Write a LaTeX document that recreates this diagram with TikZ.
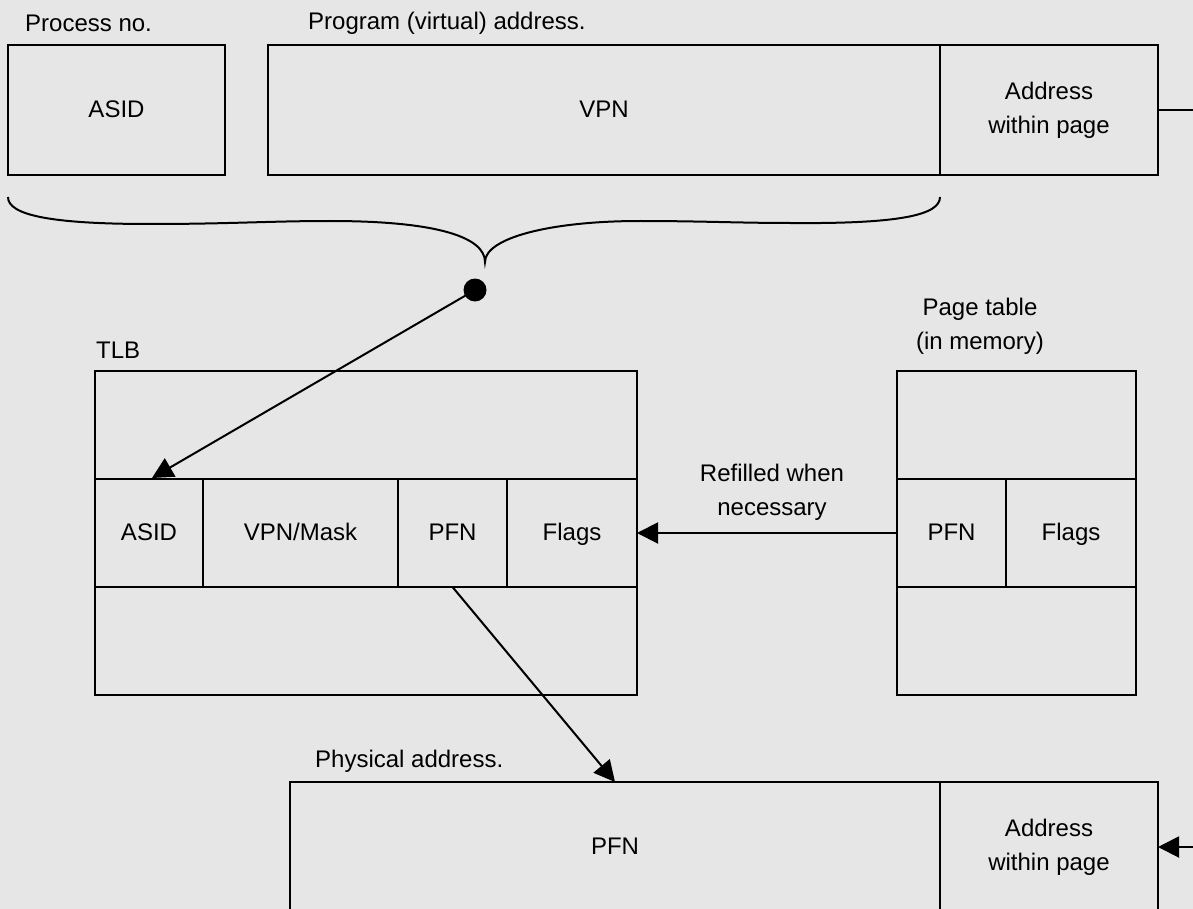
\documentclass[tikz,border=0pt]{standalone}
\usepackage{fontspec}
\setmainfont{Liberation Sans}
\usetikzlibrary{arrows.meta}
\definecolor{bg}{RGB}{230,230,230}
\begin{document}
\begin{tikzpicture}[x=1pt,y=-1pt,
  every node/.style={font=\fontsize{24}{34}\selectfont},
  cell/.style={draw, line width=2pt, inner sep=0pt, outer sep=0pt, align=center},
  one/.style={text height=20pt, text depth=5pt},
  lbl/.style={inner sep=0pt, anchor=west},
  conn/.style={line width=2pt},
  tip/.style={line width=2pt, -{Triangle[length=21pt,width=21pt]}}]
\fill[bg] (0,0) rectangle (1193,909);
\useasboundingbox (0,0) rectangle (1193,909);
\clip (0,0) rectangle (1193,909);
% top labels
\node[lbl] (lproc) at (25,23) {Process no.};
\node[lbl] (lprog) at (308,23) {Program (virtual) address.};
% top boxes
\node[cell, one, minimum width=217pt, minimum height=130pt] (asidtop) at (116.5,110) {ASID};
\node[cell, one, minimum width=672pt, minimum height=130pt] (vpn) at (604,110) {VPN};
\node[cell, minimum width=218pt, minimum height=130pt] (offtop) at (1049,110) {Address\\within page};
\coordinate (rout) at (1193,110);
\draw[conn] (offtop.east) -- (rout);
% brace
\coordinate (btip) at (485,262);
\draw[conn] (8,197) .. controls (8,215) and (50,224) .. (150,224)
  .. controls (230,224) and (270,221) .. (330,221)
  .. controls (440,221) and (485,238) .. (btip)
  .. controls (485,238) and (550,221) .. (640,221)
  .. controls (700,221) and (740,223) .. (790,223)
  .. controls (900,224) and (940,215) .. (940,197);
\node[circle, fill, inner sep=0pt, minimum size=23pt] (dot) at (475,290) {};
% TLB
\node[lbl] (ltlb) at (96,350) {TLB};
\node[cell, minimum width=542pt, minimum height=108pt] (tlbtop) at (366,425) {};
\node[cell, one, minimum width=108pt, minimum height=108pt] (tasid) at (149,533) {ASID};
\node[cell, one, minimum width=195pt, minimum height=108pt] (tvpn) at (300.5,533) {VPN/Mask};
\node[cell, one, minimum width=109pt, minimum height=108pt] (tpfn) at (452.5,533) {PFN};
\node[cell, one, minimum width=130pt, minimum height=108pt] (tflags) at (572,533) {Flags};
\node[cell, minimum width=542pt, minimum height=108pt] (tlbbot) at (366,641) {};
% page table
\node[align=center, inner sep=0pt] (lpt) at (980,326) {Page table\\(in memory)};
\node[cell, minimum width=239pt, minimum height=108pt] (pttop) at (1016.5,425) {};
\node[cell, one, minimum width=109pt, minimum height=108pt] (ppfn) at (951.5,533) {PFN};
\node[cell, one, minimum width=130pt, minimum height=108pt] (pflags) at (1071,533) {Flags};
\node[cell, minimum width=239pt, minimum height=108pt] (ptbot) at (1016.5,641) {};
\node[align=center, inner sep=0pt] (lrefill) at (772,492) {Refilled when\\necessary};
% physical address
\node[lbl] (lphys) at (315,761) {Physical address.};
\node[cell, one, minimum width=650pt, minimum height=130pt] (ppfnbox) at (615,847) {PFN};
\node[cell, minimum width=218pt, minimum height=130pt] (poff) at (1049,847) {Address\\within page};
\coordinate (rin) at (1193,847);
% connectors
\coordinate (asidin) at (152,478);
\draw[tip] (dot.center) -- (asidin);
\draw[tip] (ppfn.west) -- (tflags.east);
\draw[tip] (tpfn.south) -- (ppfnbox.north);
\draw[tip] (rin) -- (poff.east);
\end{tikzpicture}
\end{document}
